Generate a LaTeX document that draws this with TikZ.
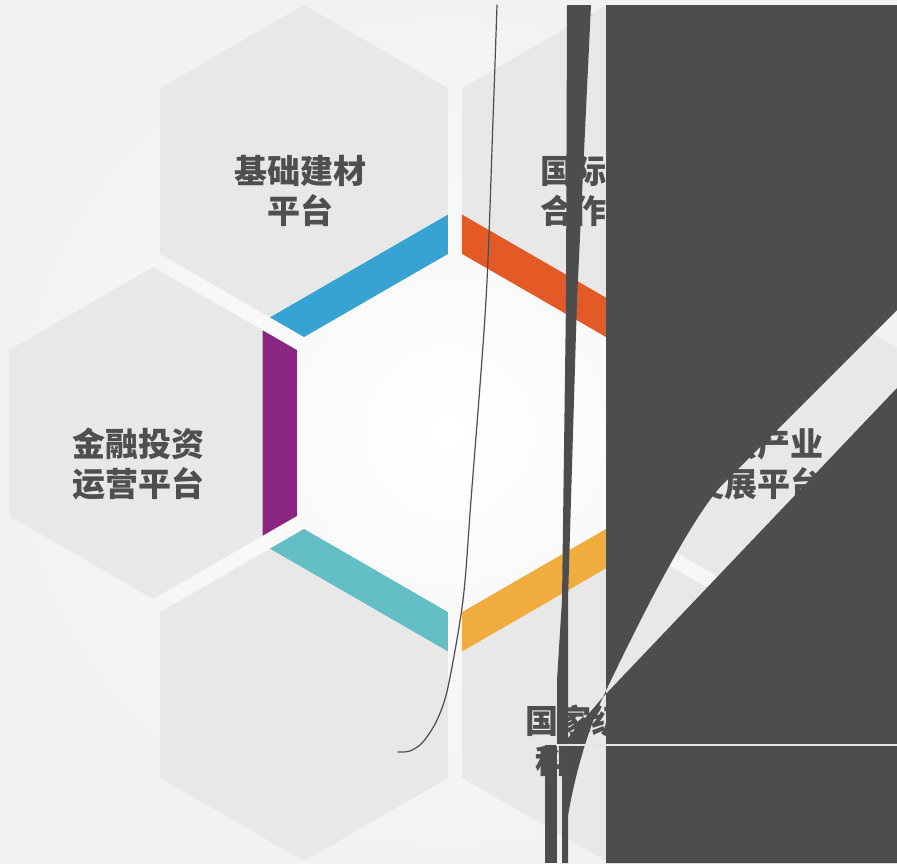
\documentclass[tikz,border=0pt]{standalone}
\usepackage{fontspec}
\newfontfamily\cjk{Noto Sans CJK SC}
\definecolor{hexgray}{HTML}{E8E8E8}
\definecolor{bgout}{HTML}{F2F2F2}
\definecolor{darkov}{HTML}{4D4D4D}
\definecolor{txt}{HTML}{4F4F4F}
\definecolor{cblue}{HTML}{36A3D3}
\definecolor{corange}{HTML}{E35A27}
\definecolor{cpurple}{HTML}{8A2584}
\definecolor{ccyan}{HTML}{64BEC5}
\definecolor{cyellow}{HTML}{F1AC40}
\definecolor{slit}{HTML}{E4E4E4}
\begin{document}
\begin{tikzpicture}[x=1pt,y=-1pt,
  hexfill/.style={fill=hexgray},
  hextext/.style={text=txt, font=\cjk\bfseries\fontsize{33}{40}\selectfont, align=center, inner sep=0pt},
  darkfill/.style={fill=darkov},
  thinline/.style={draw=darkov, line width=1.2pt, line cap=round}]
\useasboundingbox (0,0) rectangle (897,863);
\shade[inner color=white, outer color=bgout] (0,0) rectangle (897,863);
% hexagon centres
\coordinate (hTL) at (304,171);
\coordinate (hTR) at (606,171);
\coordinate (hL) at (153,433);
\coordinate (hR) at (757,433);
\coordinate (hBL) at (304,695);
\coordinate (hBR) at (606,695);
\foreach \c in {hTL,hTR,hL,hR,hBL,hBR}{
  \fill[hexfill] (\c) +(30:166) -- +(90:166) -- +(150:166) -- +(210:166) -- +(270:166) -- +(330:166) -- cycle;
}
% coloured bands (edge of each hexagon facing the centre)
\foreach \c/\p/\col in {hTL/60/cblue, hTR/120/corange, hL/0/cpurple, hBL/-60/ccyan, hBR/-120/cyellow}{
  \fill[\col] (\c) ++(\p-30:166) -- ++(\p+90:166) -- ++(\p+150:39.3) -- ++(\p-90:205.3) -- cycle;
}
% texts
\node[hextext] (tTL) at (300,191) {基础建材\\平台};
\node[hextext] (tTR) at (606,191) {国际产能\\合作平台};
\node[hextext] (tL) at (138,464) {金融投资\\运营平台};
\node[hextext] (tR) at (757,464) {新兴产业\\发展平台};
\node[hextext, align=left, anchor=west] (tBR) at (525,741) {国家级研发\\\hspace*{10pt}科};
% dark overlay shapes
\fill[darkfill, even odd rule] (606,5) rectangle (897,863)
  (897,310) .. controls (860,347) and (760,447) .. (724,483)
  .. controls (690,517) and (630,640) .. (603,697) -- (897,388) -- cycle;
\fill[darkfill] (603,697) -- (562,745) -- (562,863) .. controls (568,790) and (588,730) .. (603,697) -- cycle;
\fill[darkfill] (567,5) -- (591,5) -- (577,300) -- (568,600) -- (568,863) -- (562,863) -- (562,745)
  -- (557,745) -- (557,680) -- (562,600) -- (566,300) -- cycle;
\fill[darkfill] (545,745) rectangle (557,863);
\draw[slit, line width=1.2pt] (556,745) -- (897,745);
% thin curve
\draw[thinline] plot[smooth, tension=0.5] coordinates {(497,5) (493,120) (486,300) (471,500) (463,600) (448,687) (437,720) (423,742) (410,751) (398,752)};
\end{tikzpicture}
\end{document}
